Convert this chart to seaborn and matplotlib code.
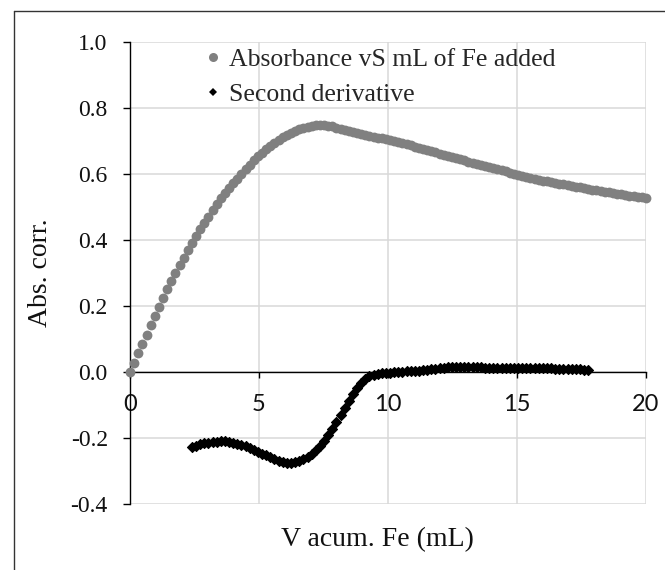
import matplotlib
matplotlib.use("Agg")
import matplotlib.pyplot as plt
import seaborn as sns
import pandas as pd
from matplotlib.lines import Line2D

# ---- data ----
abs_x = [0.00, 0.16, 0.32, 0.48, 0.64, 0.80, 0.96, 1.12, 1.28, 1.44, 1.60, 1.76, 1.92, 2.08, 2.24,
         2.40, 2.56, 2.72, 2.88, 3.04, 3.20, 3.36, 3.52, 3.68, 3.84, 4.00, 4.16, 4.32, 4.48, 4.64,
         4.80, 4.96, 5.12, 5.28, 5.44, 5.60, 5.76, 5.92, 6.08, 6.24, 6.40, 6.56, 6.72, 6.88, 7.04,
         7.20, 7.36, 7.52, 7.68, 7.84, 8.00, 8.16, 8.32, 8.48, 8.64, 8.80, 8.96, 9.12, 9.28, 9.44,
         9.60, 9.76, 9.92, 10.08, 10.24, 10.40, 10.56, 10.72, 10.88, 11.04, 11.20, 11.36, 11.52, 11.68, 11.84,
         12.00, 12.16, 12.32, 12.48, 12.64, 12.80, 12.96, 13.12, 13.28, 13.44, 13.60, 13.76, 13.92, 14.08, 14.24,
         14.40, 14.56, 14.72, 14.88, 15.04, 15.20, 15.36, 15.52, 15.68, 15.84, 16.00, 16.16, 16.32, 16.48, 16.64,
         16.80, 16.96, 17.12, 17.28, 17.44, 17.60, 17.76, 17.92, 18.08, 18.24, 18.40, 18.56, 18.72, 18.88, 19.04,
         19.20, 19.36, 19.52, 19.68, 19.84, 20.00]
abs_y = [0.000, 0.028, 0.057, 0.085, 0.114, 0.142, 0.171, 0.198, 0.225, 0.251, 0.276, 0.300, 0.324, 0.347, 0.370,
         0.391, 0.413, 0.433, 0.452, 0.471, 0.490, 0.508, 0.526, 0.542, 0.556, 0.571, 0.586, 0.601, 0.615, 0.628,
         0.641, 0.653, 0.664, 0.675, 0.685, 0.695, 0.704, 0.712, 0.719, 0.725, 0.731, 0.736, 0.740, 0.743, 0.745,
         0.747, 0.748, 0.748, 0.746, 0.744, 0.740, 0.737, 0.734, 0.731, 0.727, 0.724, 0.721, 0.718, 0.715, 0.713,
         0.710, 0.708, 0.705, 0.702, 0.699, 0.696, 0.692, 0.689, 0.686, 0.682, 0.679, 0.675, 0.672, 0.668, 0.665,
         0.661, 0.658, 0.654, 0.651, 0.647, 0.644, 0.641, 0.637, 0.634, 0.630, 0.627, 0.624, 0.621, 0.617, 0.614,
         0.611, 0.608, 0.604, 0.601, 0.597, 0.595, 0.592, 0.589, 0.586, 0.583, 0.580, 0.578, 0.575, 0.573, 0.570,
         0.568, 0.566, 0.563, 0.561, 0.559, 0.556, 0.554, 0.552, 0.550, 0.548, 0.546, 0.544, 0.542, 0.540, 0.538,
         0.536, 0.534, 0.533, 0.531, 0.529, 0.528]

der_x = [2.40, 2.56, 2.72, 2.88, 3.04, 3.20, 3.36, 3.52, 3.68, 3.84, 4.00, 4.16, 4.32, 4.48, 4.64,
         4.80, 4.96, 5.12, 5.28, 5.44, 5.60, 5.76, 5.92, 6.08, 6.24, 6.40, 6.56, 6.72, 6.88, 7.04,
         7.20, 7.36, 7.52, 7.68, 7.84, 8.00, 8.16, 8.32, 8.48, 8.64, 8.80, 8.96, 9.12, 9.28, 9.44,
         9.60, 9.76, 9.92, 10.08, 10.24, 10.40, 10.56, 10.72, 10.88, 11.04, 11.20, 11.36, 11.52, 11.68, 11.84,
         12.00, 12.16, 12.32, 12.48, 12.64, 12.80, 12.96, 13.12, 13.28, 13.44, 13.60, 13.76, 13.92, 14.08, 14.24,
         14.40, 14.56, 14.72, 14.88, 15.04, 15.20, 15.36, 15.52, 15.68, 15.84, 16.00, 16.16, 16.32, 16.48, 16.64,
         16.80, 16.96, 17.12, 17.28, 17.44, 17.60, 17.76]
der_y = [-0.226, -0.222, -0.218, -0.215, -0.213, -0.211, -0.210, -0.209, -0.209, -0.210, -0.213, -0.216, -0.220, -0.224, -0.229,
         -0.234, -0.240, -0.246, -0.252, -0.258, -0.264, -0.268, -0.271, -0.274, -0.275, -0.273, -0.269, -0.263, -0.256, -0.247,
         -0.236, -0.223, -0.208, -0.191, -0.173, -0.152, -0.130, -0.108, -0.086, -0.065, -0.047, -0.032, -0.020, -0.013, -0.008,
         -0.005, -0.003, -0.002, -0.001, 0.000, 0.001, 0.002, 0.003, 0.003, 0.004, 0.005, 0.007, 0.008, 0.010, 0.011,
         0.013, 0.014, 0.015, 0.015, 0.016, 0.016, 0.016, 0.016, 0.016, 0.015, 0.015, 0.014, 0.014, 0.014, 0.014,
         0.013, 0.013, 0.013, 0.013, 0.013, 0.013, 0.012, 0.012, 0.012, 0.012, 0.012, 0.012, 0.012, 0.011, 0.011,
         0.011, 0.010, 0.010, 0.009, 0.009, 0.008, 0.007]

x_ticks = [0, 5, 10, 15, 20]
y_ticks = [-0.4, -0.2, 0.0, 0.2, 0.4, 0.6, 0.8, 1.0]
label_abs = "Absorbance vS mL of Fe added"
label_der = "Second derivative"
x_title = "V acum. Fe (mL)"
y_title = "Abs. corr."

df_abs = pd.DataFrame({"x": abs_x, "y": abs_y})
df_der = pd.DataFrame({"x": der_x, "y": der_y})

# ---- style ----
sns.set_theme(style="white")
serif = ["Liberation Serif", "DejaVu Serif"]
plt.rcParams["font.family"] = serif

fig = plt.figure(figsize=(6.65, 5.7), dpi=100)
ax = fig.add_axes([130 / 665, 1 - 504.4 / 570, 516 / 665, 462.7 / 570])

grey = "#808080"
sns.scatterplot(data=df_abs, x="x", y="y", ax=ax, color=grey, marker="o", s=50,
                linewidth=0, clip_on=False, zorder=3, legend=False)
sns.scatterplot(data=df_der, x="x", y="y", ax=ax, color="black", marker="D", s=26,
                linewidth=0.8, edgecolor="black", clip_on=False, zorder=3, legend=False)

ax.set_xlim(0, 20)
ax.set_ylim(-0.4, 1.0)

ax.grid(True, color="#d9d9d9", linewidth=1.1)
ax.set_axisbelow(True)
for side in ["top", "right"]:
    ax.spines[side].set_visible(False)
ax.spines["left"].set_color("black")
ax.spines["left"].set_linewidth(1.0)
ax.spines["bottom"].set_position(("data", 0))
ax.spines["bottom"].set_color("black")
ax.spines["bottom"].set_linewidth(1.0)
ax.spines["bottom"].set_zorder(2.5)

# ticks (set after spine repositioning, which resets the tick objects)
ax.set_xticks(x_ticks)
ax.set_yticks(y_ticks)
ax.set_xticklabels([str(t) for t in x_ticks])
ax.set_yticklabels([f"{t:.1f}" for t in y_ticks])
ax.tick_params(axis="y", which="major", direction="out", length=5, width=1,
               color="black", pad=11, left=True, labelsize=17,
               labelfontfamily="Liberation Serif", labelcolor="#111111")
ax.tick_params(axis="x", which="major", direction="out", length=4.5, width=1,
               color="black", pad=11, bottom=True, labelsize=17,
               labelfontfamily="Lato", labelcolor="#111111")

ax.set_xlabel(x_title, fontsize=20, fontfamily=serif, color="#111111")
ax.set_ylabel(y_title, fontsize=20, fontfamily=serif, color="#111111", va="center")
ax.xaxis.set_label_coords(0.48, -0.05)
ax.yaxis.set_label_coords(-0.174, 0.5)

handles = [
    Line2D([], [], linestyle="none", marker="o", markersize=6.5, color=grey, markeredgewidth=0),
    Line2D([], [], linestyle="none", marker="D", markersize=4.5, color="black", markeredgewidth=0),
]
ax.legend(handles, [label_abs, label_der], loc="upper left",
          bbox_to_anchor=(205.5 / 665, 1 - 48 / 570), bbox_transform=fig.transFigure,
          frameon=False, handlelength=0.6, handletextpad=0.3,
          labelspacing=0.45, borderpad=0, borderaxespad=0,
          prop={"family": serif, "size": 18.5})

# outer frame (extends past the right and bottom edges as in the reference)
fig.add_artist(Line2D([13.5 / 665, 13.5 / 665], [0, 1 - 11 / 570], transform=fig.transFigure,
                      color="#333333", linewidth=1.0))
fig.add_artist(Line2D([13.5 / 665, 1], [1 - 11 / 570, 1 - 11 / 570], transform=fig.transFigure,
                      color="#333333", linewidth=1.0))

fig.savefig("out.png", dpi=100)
